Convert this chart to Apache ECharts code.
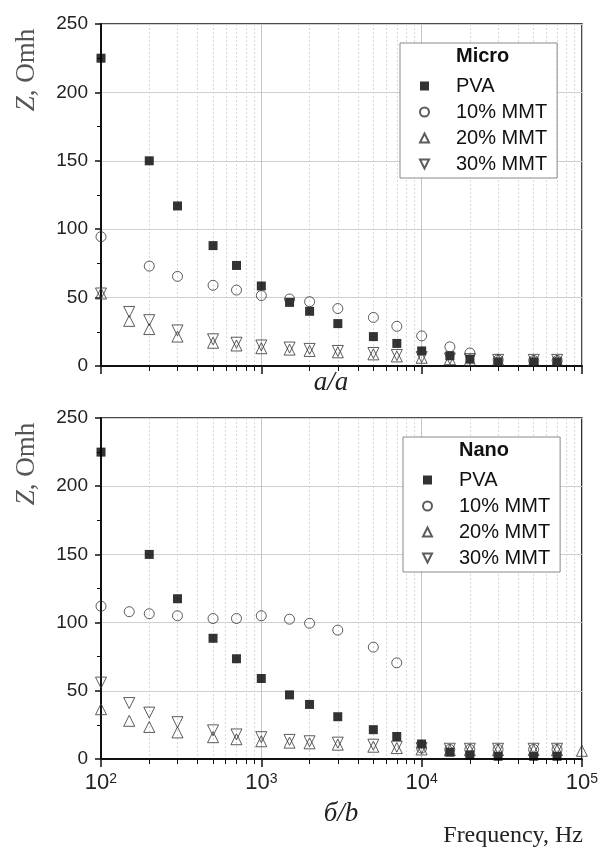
<!DOCTYPE html>
<html>
<head>
<meta charset="utf-8">
<script src="https://cdn.jsdelivr.net/npm/echarts@6/dist/echarts.min.js"></script>
<style>
html, body { margin: 0; padding: 0; background: #fff; }
#chart { width: 601px; height: 847px; }
</style>
</head>
<body>
<div id="chart"></div>
<script>
// frequencies, Hz
var freq = [100, 150, 200, 300, 500, 700, 1000, 1500, 2000, 3000, 5000, 7000, 10000, 15000, 20000, 30000, 50000, 70000, 100000];

// a/a  Micro
var microPVA   = [225, null, 150, 117, 88, 73.5, 58.5, 46.5, 40, 31, 21.5, 16.5, 11, 7.5, 5, 3, 3, 3, null];
var micro10    = [94.5, null, 73, 65.5, 59, 55.5, 51.5, 49, 47, 42, 35.5, 29, 22, 14, 9.5, 4.5, 4, 4, null];
var micro20    = [53, 33, 27, 21.5, 17, 15, 13, 12, 11, 10, 8.5, 7, 6, 5, 4.5, 4.5, 4, 4, null];
var micro30    = [53, 39.5, 33.5, 26, 19.5, 17, 15, 13.5, 12.5, 11, 9.5, 8, 6.5, 5.5, 5, 4.5, 4.5, 4.5, null];

// б/b  Nano
var nanoPVA    = [225, null, 150, 117.5, 88.5, 73.5, 59, 47, 40, 31, 21.5, 16.5, 11, 5, 3, 2, 2, 2, null];
var nano10     = [112, 108, 106.5, 105, 103, 103, 105, 102.5, 99.5, 94.5, 82, 70.5, 8, 7, 7, 7, 7, 7, null];
var nano20     = [36.5, 28, 23.5, 19.5, 16, 14.5, 13, 12, 11.5, 10.5, 9, 8, 7, 6.5, 6.5, 6.5, 6.5, 6.5, 6];
var nano30     = [56, 41, 34, 27, 21, 18, 16, 14, 13, 12, 10.5, 9, 8, 7.5, 7.5, 7.5, 7.5, 7.5, null];

var names = ['PVA', '10% MMT', '20% MMT', '30% MMT'];
var yTicks = [0, 50, 100, 150, 200, 250];

var SANS = '"Liberation Sans", Arial, sans-serif';
var SERIF = '"Liberation Serif", "Times New Roman", serif';
var DOWN_TRI = 'path://M0,0L20,0L10,20Z';

function pts(vals) {
	var out = [];
	for (var i = 0; i < freq.length; i++) {
		if (vals[i] != null) out.push([freq[i], vals[i]]);
	}
	return out;
}

function xAxisFor(gi, showLabels) {
	return {
		type: 'log', logBase: 10, min: 100, max: 100000, gridIndex: gi,
		axisLine: { show: true, onZero: false, lineStyle: { color: '#111', width: 2 } },
		axisTick: { show: true, inside: false, length: 8, lineStyle: { color: '#111', width: 1.5 } },
		minorTick: { show: true, splitNumber: 9, length: 5, lineStyle: { color: '#111', width: 1 } },
		splitLine: { show: true, lineStyle: { color: '#c4c4c4', width: 1 } },
		minorSplitLine: { show: true, lineStyle: { color: '#d8d8d8', width: 1, type: [2, 2] } },
		axisLabel: {
			show: showLabels, margin: 13, showMinLabel: true, showMaxLabel: true,
			formatter: function (v) {
				var e = Math.round(Math.log(v) / Math.LN10);
				return '{b|10}{s|' + e + '}';
			},
			rich: {
				b: { fontSize: 22, fontFamily: SANS, color: '#222' },
				s: { fontSize: 14, fontFamily: SANS, color: '#222', verticalAlign: 'top' }
			}
		}
	};
}

function yAxisFor(gi) {
	return {
		type: 'value', min: yTicks[0], max: yTicks[yTicks.length - 1], interval: 50, gridIndex: gi,
		axisLine: { show: true, lineStyle: { color: '#111', width: 2 } },
		axisTick: { show: true, inside: false, length: 6, lineStyle: { color: '#111', width: 1.5 } },
		minorTick: { show: true, splitNumber: 2, length: 4, lineStyle: { color: '#111', width: 1 } },
		splitLine: { show: true, lineStyle: { color: '#cfcfcf', width: 1 } },
		axisLabel: { margin: 13, fontSize: 19, fontFamily: SANS, color: '#222' }
	};
}

function seriesFor(gi, sets) {
	var hollow = { color: 'rgba(255,255,255,0)', borderColor: '#333', borderWidth: 1 };
	var styles = [
		{ symbol: 'rect', symbolSize: 9, itemStyle: { color: '#000', borderColor: '#000', borderWidth: 0 } },
		{ symbol: 'circle', symbolSize: 10, itemStyle: hollow },
		{ symbol: 'triangle', symbolSize: 11, itemStyle: hollow },
		{ symbol: DOWN_TRI, symbolSize: 11, itemStyle: hollow }
	];
	return sets.map(function (vals, k) {
		var s = styles[k];
		return {
			name: names[k], type: 'scatter', xAxisIndex: gi, yAxisIndex: gi,
			symbol: s.symbol, symbolSize: s.symbolSize,
			itemStyle: s.itemStyle, data: pts(vals), z: 3 + k
		};
	});
}

function legendFor(left, top) {
	return {
		orient: 'vertical', left: left, top: top,
		data: names, selectedMode: false,
		itemWidth: 9, itemHeight: 9, itemGap: 6,
		padding: [33, 10, 4, 19],
		backgroundColor: '#fff', borderColor: '#888', borderWidth: 1,
		textStyle: { fontSize: 20, fontFamily: SANS, color: '#111', padding: [0, 0, 0, 22], lineHeight: 20 }
	};
}

var chart = echarts.init(document.getElementById('chart'));

var option = {
	backgroundColor: '#fff',
	animation: false,
	grid: [
		{ left: 101, top: 24, width: 481, height: 342, show: true, borderColor: '#111', borderWidth: 1.5, backgroundColor: '#fff' },
		{ left: 101, top: 418, width: 481, height: 341, show: true, borderColor: '#111', borderWidth: 1.5, backgroundColor: '#fff' }
	],
	title: [
		{ text: 'Micro', left: 456, top: 46, padding: 0, z: 10, textStyle: { fontSize: 20, fontWeight: 'bold', fontFamily: SANS, color: '#111' } },
		{ text: 'Nano', left: 459, top: 440, padding: 0, z: 10, textStyle: { fontSize: 20, fontWeight: 'bold', fontFamily: SANS, color: '#111' } }
	],
	legend: [legendFor(400, 43), legendFor(403, 437)],
	xAxis: [xAxisFor(0, false), xAxisFor(1, true)],
	yAxis: [yAxisFor(0), yAxisFor(1)],
	series: seriesFor(0, [microPVA, micro10, micro20, micro30])
		.concat(seriesFor(1, [nanoPVA, nano10, nano20, nano30])),
	graphic: [
		{ type: 'text', x: 27, y: 70, rotation: Math.PI / 2,
			style: { text: '{i|Z}, Omh', fill: '#555', font: '27px ' + SERIF, align: 'center', verticalAlign: 'middle',
				rich: { i: { fontStyle: 'italic', fontSize: 27, fontFamily: SERIF, fill: '#555' } } } },
		{ type: 'text', x: 27, y: 464, rotation: Math.PI / 2,
			style: { text: '{i|Z}, Omh', fill: '#555', font: '27px ' + SERIF, align: 'center', verticalAlign: 'middle',
				rich: { i: { fontStyle: 'italic', fontSize: 27, fontFamily: SERIF, fill: '#555' } } } },
		{ type: 'text', x: 331, y: 383,
			style: { text: 'a/a', fill: '#222', font: 'italic 27px ' + SERIF, align: 'center', verticalAlign: 'middle' } },
		{ type: 'text', x: 341, y: 814,
			style: { text: 'б/b', fill: '#222', font: 'italic 27px ' + SERIF, align: 'center', verticalAlign: 'middle' } },
		{ type: 'text', x: 583, y: 836,
			style: { text: 'Frequency, Hz', fill: '#222', font: '24px ' + SERIF, align: 'right', verticalAlign: 'middle' } }
	]
};

chart.setOption(option);
</script>
</body>
</html>
